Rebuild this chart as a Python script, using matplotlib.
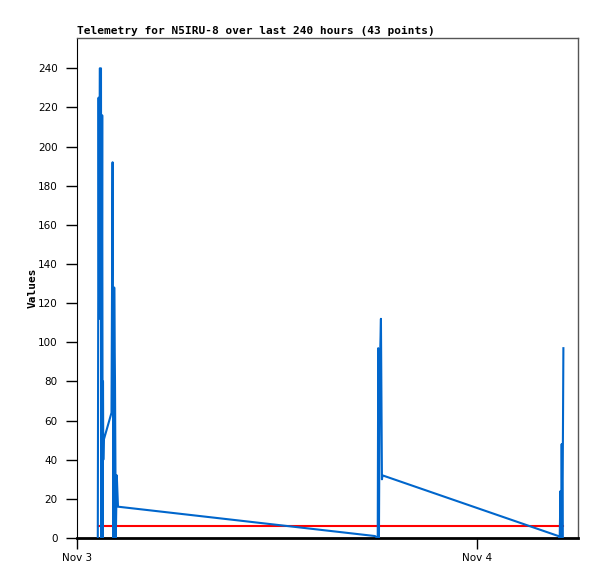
import numpy as np
import pandas as pd
import matplotlib
matplotlib.use('Agg')
import matplotlib.pyplot as plt
import matplotlib.dates as mdates

# telemetry samples (time, value)
times = [
    '2023-11-03 01:14:53', '2023-11-03 01:17:46', '2023-11-03 01:19:34',
    '2023-11-03 01:22:05', '2023-11-03 01:26:24', '2023-11-03 01:27:50',
    '2023-11-03 01:30:43', '2023-11-03 01:32:31', '2023-11-03 01:33:36',
    '2023-11-03 01:34:41', '2023-11-03 01:36:07',
    '2023-11-03 02:04:12', '2023-11-03 02:08:10', '2023-11-03 02:10:41',
    '2023-11-03 02:13:55', '2023-11-03 02:16:48', '2023-11-03 02:19:41',
    '2023-11-03 02:23:17', '2023-11-03 02:27:36',
    '2023-11-03 17:52:48', '2023-11-03 18:02:53', '2023-11-03 18:04:41',
    '2023-11-03 18:07:12', '2023-11-03 18:10:05', '2023-11-03 18:14:24',
    '2023-11-03 18:16:12', '2023-11-03 18:18:00', '2023-11-03 18:20:10',
    '2023-11-04 04:53:24', '2023-11-04 04:58:05', '2023-11-04 05:01:00',
    '2023-11-04 05:03:07', '2023-11-04 05:05:17', '2023-11-04 05:07:48',
    '2023-11-04 05:11:24',
]
values = [
    0, 225, 112, 240, 240, 0, 216, 0, 80, 40, 50,
    64, 192, 0, 128, 80, 0, 32, 16,
    1, 0, 97, 0, 84, 112, 72, 30, 32,
    1, 0, 24, 0, 48, 0, 97,
]
threshold = 6
yticks = list(range(0, 241, 20))

t = pd.to_datetime(times)

fig = plt.figure(figsize=(5.97, 5.79), dpi=100)
ax = fig.add_axes([77 / 597, 41 / 579, 501 / 597, 500 / 579])

ax.plot([t[0], t[-1]], [threshold, threshold], color='#ff0000', lw=1.5, zorder=2)
ax.plot(t, values, color='#0066cc', lw=1.5, zorder=3)

ax.set_xlim(pd.Timestamp('2023-11-03 00:00'), pd.Timestamp('2023-11-04 06:04'))
ax.set_ylim(0, 255.5)
ax.set_yticks(yticks)
ax.xaxis.set_major_locator(mdates.DayLocator())
ax.xaxis.set_major_formatter(mdates.DateFormatter('%b %-d'))

ax.tick_params(direction='out', length=8, width=1, labelsize=7.5, colors='black', pad=6)
ax.tick_params(axis='x', pad=3)
for s in ['top', 'right']:
    ax.spines[s].set_color('#555555')
    ax.spines[s].set_linewidth(1)
ax.spines['left'].set_color('black')
ax.spines['bottom'].set_color('black')
ax.spines['bottom'].set_linewidth(2)

ax.set_ylabel('Values', fontfamily='DejaVu Sans Mono', fontweight='bold', fontsize=8, labelpad=0)
ax.set_title('Telemetry for N5IRU-8 over last 240 hours (43 points)', loc='left',
             fontfamily='DejaVu Sans Mono', fontweight='bold', fontsize=8, pad=3)

fig.savefig('out.png', dpi=100)
